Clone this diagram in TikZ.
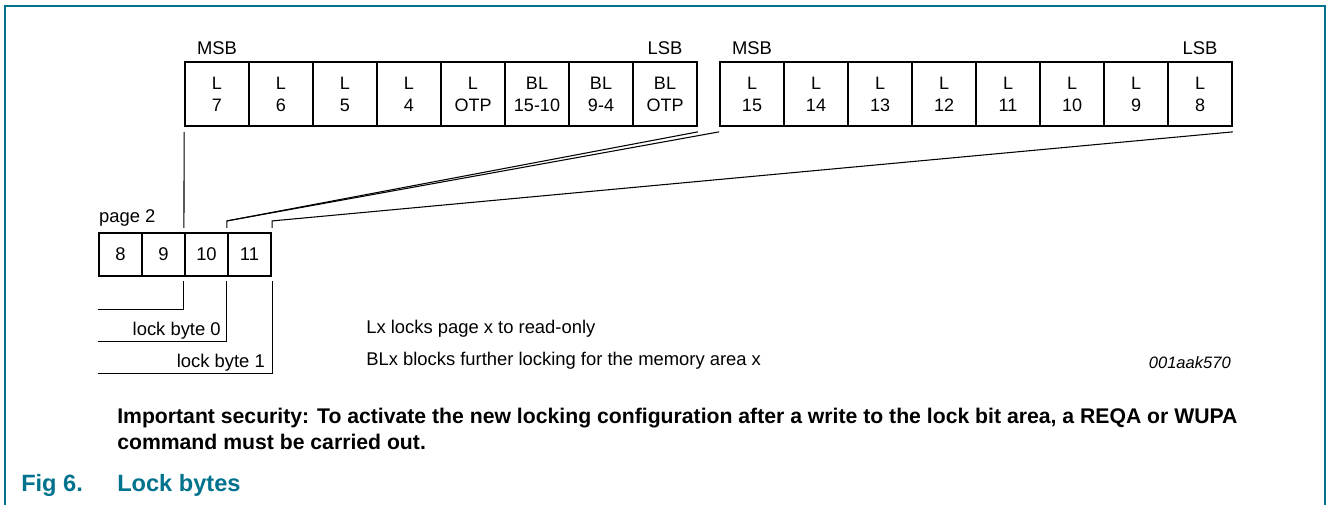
\documentclass[tikz,border=0pt]{standalone}
\usepackage{fontspec}
\setmainfont{Liberation Sans}
\usetikzlibrary{calc}
\definecolor{nxpteal}{RGB}{0,114,142}

\begin{document}
\begin{tikzpicture}[x=0.75pt, y=-0.75pt,
    bitcell/.style={draw, line width=1.3pt, minimum width=48pt, minimum height=48pt, inner sep=0pt, align=center, font=\fontsize{13.5}{16.5}\selectfont},
    bytecell/.style={draw, line width=1.6pt, minimum width=32.25pt, minimum height=32.25pt, inner sep=0pt, font=\fontsize{13.8}{16}\selectfont},
    txt/.style={inner sep=0pt, font=\fontsize{13.8}{16}\selectfont},
    note/.style={inner sep=0pt, anchor=base west, font=\bfseries\fontsize{15.9}{19}\selectfont},
    caption/.style={inner sep=0pt, anchor=base west, text=nxpteal, font=\bfseries\fontsize{17.7}{21}\selectfont},
    link/.style={line width=0.8pt}]

    \useasboundingbox (0,0) rectangle (1328,505);
    \draw[nxpteal, line width=1.5pt] (5,505) -- (5,6) -- (1325,6) -- (1325,505);

    % lock byte 0
    \foreach \nm/\nr [count=\i from 0] in {L/7,L/6,L/5,L/4,L/OTP,BL/15-10,BL/9-4,BL/OTP}
        \node[bitcell] (a\i) at ({217+64*\i},94) {\nm\\\nr};
    % lock byte 1
    \foreach \nr [count=\i from 0] in {15,14,...,8}
        \node[bitcell] (b\i) at ({752+64*\i},94) {L\\\nr};

    \node[txt, anchor=base] (msb0) at ($(a0.north)+(0,-7)$) {MSB};
    \node[txt, anchor=base] (lsb0) at ($(a7.north)+(0,-7)$) {LSB};
    \node[txt, anchor=base] (msb1) at ($(b0.north)+(0,-7)$) {MSB};
    \node[txt, anchor=base] (lsb1) at ($(b7.north)+(0,-7)$) {LSB};

    % page 2
    \foreach \n [count=\i from 0] in {8,...,11}
        \node[bytecell] (p\n) at ({120.5+43*\i},254.5) {\n};
    \node[txt, anchor=base west] (pg) at ($(p8.north west)+(1,-9)$) {page 2};

    \coordinate (t0) at ($(p11.north west)+(0,-11)$);
    \coordinate (t1) at ($(p11.north east)+(0,-11)$);
    \draw[link] ($(a0.south west)+(0,5)$) -- ($(p10.north west)+(0,-4)$);
    \draw[link] ($(p11.north west)+(0,-4)$) -- (t0) -- ($(a7.south east)+(0,5)$);
    \draw[link] (t0) -- ($(b0.south west)+(0,5)$);
    \draw[link] ($(p11.north east)+(0,-4)$) -- (t1) -- ($(b7.south east)+(0,5)$);

    \draw[link] ($(p10.south west)+(0,4)$) |- ($(p8.south west)+(0,32)$);
    \draw[link] ($(p11.south west)+(0,4)$) |- ($(p8.south west)+(0,64)$);
    \draw[link] ($(p11.south east)+(0,4)$) |- ($(p8.south west)+(0,96)$);
    \node[txt, anchor=base east] (lb0) at ($(p11.south west)+(-6,58)$) {lock byte 0};
    \node[txt, anchor=base east] (lb1) at ($(p11.south east)+(-7,90)$) {lock byte 1};

    \node[txt, anchor=base west] (lx) at (366,334) {Lx locks page x to read-only};
    \node[txt, anchor=base west] (blx) at (366,366) {BLx blocks further locking for the memory area x};
    \node[txt, anchor=base east, font=\itshape\fontsize{12.4}{15}\selectfont] (code) at (1231,369) {001aak570};

    \node[note] (n1) at (117,424) {Important security: To activate the new locking configuration after a write to the lock bit area, a REQA or WUPA};
    \node[note] (n2) at (117,450) {command must be carried out.};

    \node[caption] (fig) at (21,492) {Fig 6.};
    \node[caption] (cap) at (117,492) {Lock bytes};
\end{tikzpicture}
\end{document}
